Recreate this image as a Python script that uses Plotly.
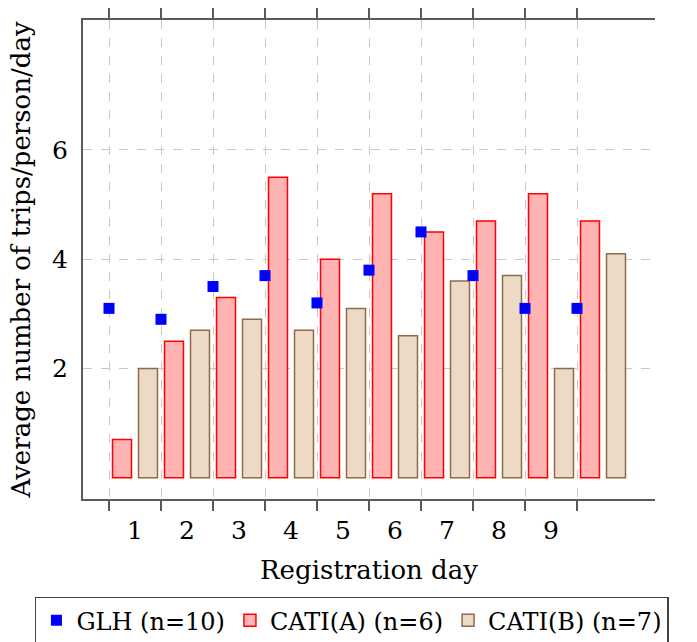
import plotly.graph_objects as go

# ---- data ----
days = [1, 2, 3, 4, 5, 6, 7, 8, 9, 10]
day_labels = ["1", "2", "3", "4", "5", "6", "7", "8", "9"]
glh = [3.1, 2.9, 3.5, 3.7, 3.2, 3.8, 4.5, 3.7, 3.1, 3.1]
cati_a = [0.7, 2.5, 3.3, 5.5, 4.0, 5.2, 4.5, 4.7, 5.2, 4.7]
cati_b = [2.0, 2.7, 2.9, 2.7, 3.1, 2.6, 3.6, 3.7, 2.0, 4.1]
y_ticks = [2, 4, 6]

series_names = ["GLH (n=10)", "CATI(A) (n=6)", "CATI(B) (n=7)"]

FONT = "DejaVu Serif"
glh_x = [d - 0.5 for d in days]

fig = go.Figure()
fig.add_trace(go.Scatter(
    x=glh_x, y=glh, mode="markers", name=series_names[0],
    marker=dict(symbol="square", size=11, color="#0000ff", line=dict(width=0)),
))
fig.add_trace(go.Bar(
    x=days, y=cati_a, name=series_names[1],
    marker=dict(color="#ffb3b3", line=dict(color="#ff0000", width=1.5)),
))
fig.add_trace(go.Bar(
    x=days, y=cati_b, name=series_names[2],
    marker=dict(color="#ecd9c6", line=dict(color="#8f6b48", width=1.5)),
))

axis_line = "#5a5a5a"
fig.update_layout(
    width=697, height=642,
    margin=dict(l=82.5, r=41.5, t=20, b=143, autoexpand=False),
    paper_bgcolor="white", plot_bgcolor="white",
    barmode="group", bargap=0.0, bargroupgap=0.27,
    font=dict(family=FONT, size=26, color="black"),
    showlegend=True,
    legend=dict(
        orientation="h", x=-0.084, xanchor="left", y=-0.204, yanchor="top",
        bordercolor="#444444", borderwidth=1.5, bgcolor="white",
        font=dict(family=FONT, size=24), itemwidth=30,
        tracegroupgap=0,
    ),
    xaxis=dict(
        range=[0, 11], tickmode="array", tickvals=glh_x, automargin=False,
        showticklabels=False, ticks="outside", ticklen=10, tickwidth=1.5,
        tickcolor=axis_line, showline=True, linecolor=axis_line, linewidth=2,
        mirror="ticks", showgrid=True, gridcolor="#c8c8c8", gridwidth=1,
        griddash="dash", zeroline=False,
    ),
    xaxis2=dict(
        range=[0, 11], overlaying="x", side="bottom", tickmode="array",
        tickvals=days[:len(day_labels)], ticktext=day_labels, automargin=False,
        showline=False, showgrid=False, zeroline=False, ticks="",
        ticklabelstandoff=14,
        tickfont=dict(family=FONT, size=25),
        title=dict(text="Registration day", standoff=16,
                   font=dict(family=FONT, size=26)),
    ),
    yaxis=dict(
        range=[-0.39, 8.38], tickmode="array", tickvals=y_ticks, automargin=False,
        ticks="", showline=True, linecolor=axis_line, linewidth=2,
        showgrid=True, gridcolor="#c8c8c8", gridwidth=1, griddash="dash",
        zeroline=False, ticklabelstandoff=8,
        tickfont=dict(family=FONT, size=25),
        title=dict(text="Average number of trips/person/day", standoff=14,
                   font=dict(family=FONT, size=26)),
    ),
)
# invisible helper trace so the label axis (xaxis2) is drawn
fig.add_trace(go.Scatter(x=[days[0]], y=[glh[0]], xaxis="x2", mode="markers",
                         marker=dict(opacity=0), showlegend=False, hoverinfo="skip"))

fig.write_html("out.html")
